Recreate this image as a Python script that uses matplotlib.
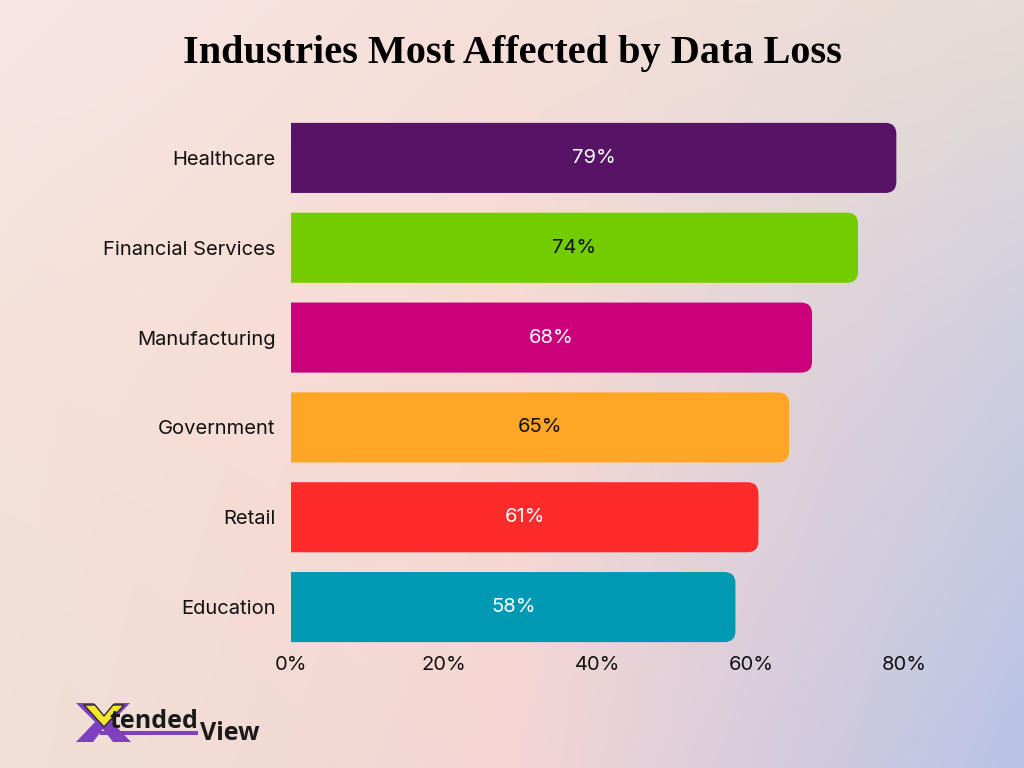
import numpy as np
import matplotlib.pyplot as plt
from matplotlib.patches import FancyBboxPatch, Rectangle, Polygon

industries = ["Healthcare", "Financial Services", "Manufacturing", "Government", "Retail", "Education"]
values = [79, 74, 68, 65, 61, 58]
colors = ["#581266", "#72cc00", "#cc007a", "#ffa626", "#ff2b2b", "#0099b3"]
label_colors = ["white", "#111111", "white", "#111111", "white", "white"]
ticks = [0, 20, 40, 60, 80]

plt.rcParams['font.family'] = ['Inter', 'DejaVu Sans']

fig = plt.figure(figsize=(10.24, 7.68), dpi=100)

# background gradient: 3x3 grid of colours, interpolated
grid_hex = [
    ["#f8e6e4", "#f6dfd9", "#e5ddd6"],
    ["#f5e1d9", "#f7d9d1", "#cdcde0"],
    ["#efe0d5", "#f5d5d4", "#b8c3e6"],
]
grid = np.array([[[int(h[i:i + 2], 16) / 255.0 for i in (1, 3, 5)] for h in row] for row in grid_hex])
n = 300
t = np.linspace(0, 1, n)
knots = [0, 0.5, 1]
rows = np.stack([np.stack([np.interp(t, knots, grid[r, :, ch]) for ch in range(3)], -1) for r in range(3)])
img = np.stack([np.stack([np.interp(t, knots, rows[:, j, ch]) for ch in range(3)], -1) for j in range(n)], 1)
bg = fig.add_axes([0, 0, 1, 1], zorder=-10)
bg.imshow(img, extent=[0, 1, 0, 1], aspect='auto', origin='upper', interpolation='bilinear')
bg.axis('off')

ax = fig.add_axes([291 / 1024, 1 - 652 / 768, (904 - 291) / 1024, (652 - 113) / 768])
ax.patch.set_alpha(0)
y = np.arange(len(industries))
bars = ax.barh(y, values, height=0.78, color=colors)
ax.set_xlim(0, 80)
ax.set_ylim(len(industries) - 0.5, -0.5)

# rounded right corners only: the left rounded corners sit outside the axes and get clipped
px_x = (904 - 291) / 80.0
px_y = (652 - 113) / 6.0
r = 11 / px_x
for bar, c in zip(bars, colors):
    x0, y0, w, h = bar.get_x(), bar.get_y(), bar.get_width(), bar.get_height()
    bar.set_visible(False)
    ax.add_patch(FancyBboxPatch((x0 - 2 * r, y0), w + 2 * r, h, boxstyle=f"round,pad=0,rounding_size={r}",
                                mutation_aspect=px_x / px_y, fc=c, ec='none', zorder=2))

for yi, val, lc in zip(y, values, label_colors):
    ax.text(val / 2, yi, f"{val}%", ha='center', va='center', color=lc, fontsize=14.5, zorder=3)

ax.set_yticks(y)
ax.set_yticklabels(industries, fontsize=14.5, color='#111111')
ax.set_xticks(ticks)
ax.set_xticklabels([f"{t}%" for t in ticks], fontsize=14.5, color='#111111')
ax.tick_params(axis='y', length=0, pad=11)
ax.tick_params(axis='x', length=0, pad=3)
for s in ax.spines.values():
    s.set_visible(False)

fig.text(0.5, 1 - 54 / 768, "Industries Most Affected by Data Loss", ha='center', va='center',
         fontsize=29, fontweight='bold', family=['Liberation Serif', 'DejaVu Serif'], color='black')

# logo
la = fig.add_axes([0, 0, 1, 1], zorder=5)
la.set_xlim(0, 1024)
la.set_ylim(768, 0)
la.axis('off')
la.add_patch(Polygon([(76, 703), (94, 703), (104, 716), (114, 703), (130, 703), (112, 722),
                      (131, 742), (113, 742), (103, 729), (93, 742), (76, 742), (95, 722)],
                     closed=True, fc='#7e3fc1', ec='none'))
la.add_patch(Polygon([(84, 705), (95, 705), (104, 716), (113, 705), (124, 705), (104, 727)],
                     closed=True, fc='#f5e62a', ec='#2a2a2a', lw=1.0))
la.add_patch(Rectangle((100, 731), 98, 3.5, fc='#7e3fc1', ec='none'))
la.text(109, 728, "tended", fontsize=18, fontweight='bold', color='#1a1a1a', va='baseline', ha='left',
        family=['Open Sans', 'DejaVu Sans'])
la.text(200, 740, "View", fontsize=18, fontweight='bold', color='#1a1a1a', va='baseline', ha='left',
        family=['Open Sans', 'DejaVu Sans'])

fig.savefig("out.png", dpi=100)
